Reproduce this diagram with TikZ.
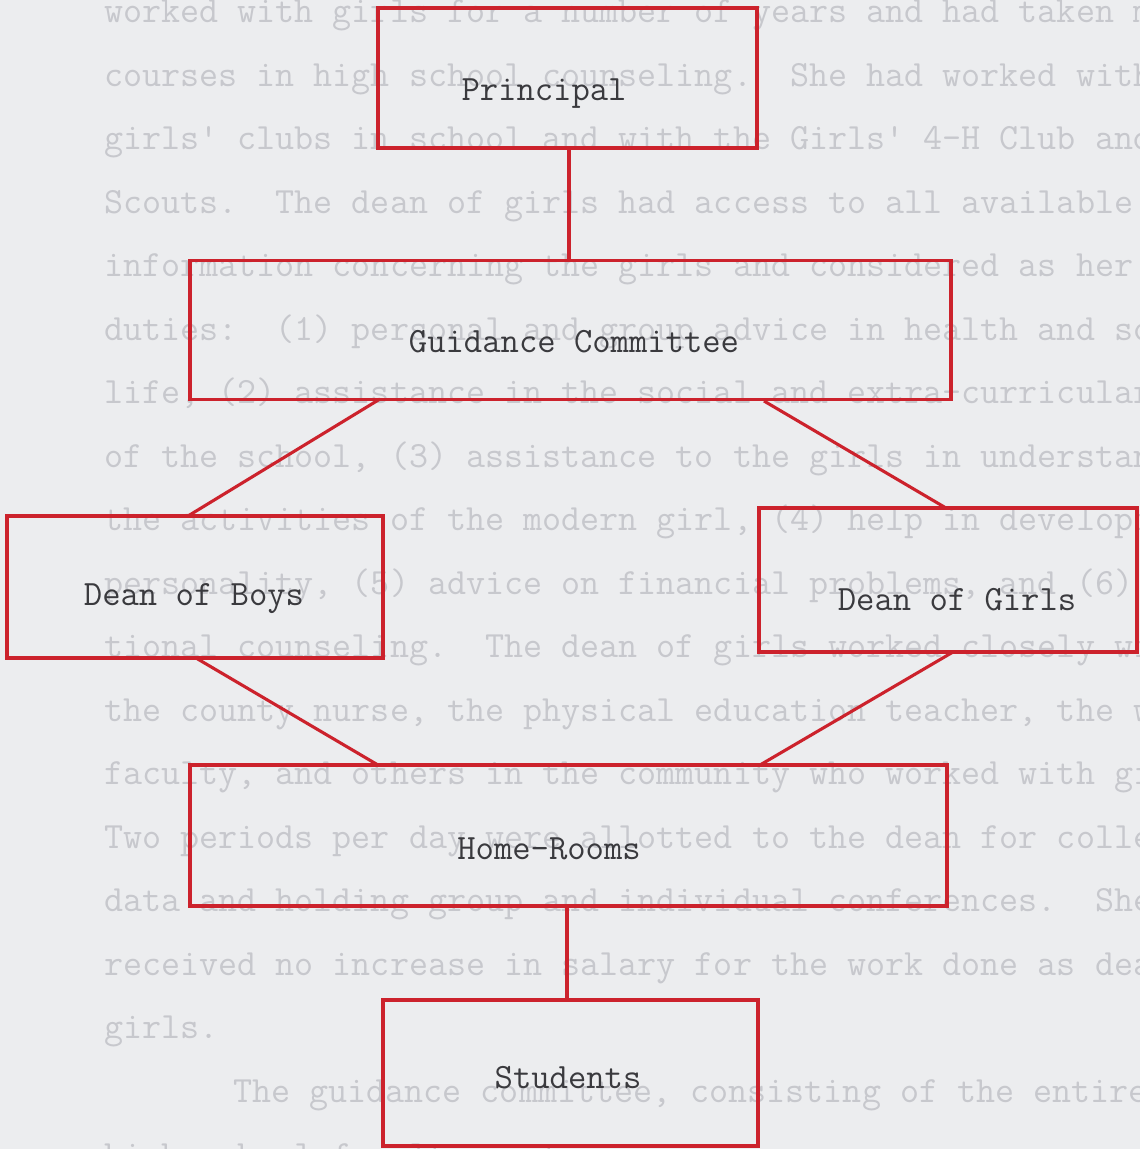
\documentclass[tikz,border=0pt]{standalone}
\usepackage{fontspec}
\definecolor{paper}{RGB}{236,237,239}
\definecolor{ghost}{RGB}{199,200,205}
\definecolor{boxred}{RGB}{204,34,44}
\definecolor{ink}{RGB}{58,58,62}
\newcommand{\tw}{\ttfamily\fontsize{35.6}{40}\selectfont\addfontfeature{FakeBold=1}}
\newcommand{\gw}{\ttfamily\fontsize{37}{40}\selectfont\addfontfeature{FakeBold=1.6}}
\begin{document}
\begin{tikzpicture}[x=1pt,y=-1pt,
  orgbox/.style={draw=boxred,line width=3.4pt,line join=miter},
  conn/.style={draw=boxred,line width=3.1pt},
  lbl/.style={inner sep=0pt,anchor=base,text=ink,font=\tw},
  ghostline/.style={inner sep=0pt,anchor=base west,text=ghost,font=\gw}]
\useasboundingbox (0,0) rectangle (1140,1149);
\clip (0,0) rectangle (1140,1149);
\fill[paper] (0,0) rectangle (1140,1149);
% faint typed text of the page
\node[ghostline] (g1)  at (104,22)   {worked with girls for a number of years and had taken many};
\node[ghostline] (g2)  at (104,86)   {courses in high school counseling.~~She had worked with};
\node[ghostline] (g3)  at (104,149)  {girls' clubs in school and with the Girls' 4-H Club and};
\node[ghostline] (g4)  at (104,213)  {Scouts.~~The dean of girls had access to all available};
\node[ghostline] (g5)  at (104,276)  {information concerning the girls and considered as her};
\node[ghostline] (g6)  at (104,340)  {duties:~~(1) personal and group advice in health and social};
\node[ghostline] (g7)  at (104,403)  {life, (2) assistance in the social and extra-curricular program};
\node[ghostline] (g8)  at (104,467)  {of the school, (3) assistance to the girls in understanding};
\node[ghostline] (g9)  at (104,530)  {the activities of the modern girl, (4) help in developing};
\node[ghostline] (g10) at (104,594)  {personality, (5) advice on financial problems, and (6) voca-};
\node[ghostline] (g11) at (104,657)  {tional counseling.~~The dean of girls worked closely with};
\node[ghostline] (g12) at (104,721)  {the county nurse, the physical education teacher, the whole};
\node[ghostline] (g13) at (104,784)  {faculty, and others in the community who worked with girls.};
\node[ghostline] (g14) at (104,848)  {Two periods per day were allotted to the dean for collecting};
\node[ghostline] (g15) at (104,911)  {data and holding group and individual conferences.~~She};
\node[ghostline] (g16) at (104,975)  {received no increase in salary for the work done as dean of};
\node[ghostline] (g17) at (104,1038) {girls.};
\node[ghostline] (g18) at (233,1102) {The guidance committee, consisting of the entire};
\node[ghostline] (g19) at (104,1166) {high school faculty, met};
% boxes
\node[orgbox,minimum width=379pt,minimum height=140pt] (principal) at (567.5,78) {};
\node[orgbox,minimum width=761pt,minimum height=139pt] (guidance) at (570.5,330) {};
\node[orgbox,minimum width=376pt,minimum height=142pt] (boys) at (195,587) {};
\node[orgbox,minimum width=378pt,minimum height=144pt] (girls) at (948,580) {};
\node[orgbox,minimum width=757pt,minimum height=141pt] (home) at (568.5,835.5) {};
\node[orgbox,minimum width=375pt,minimum height=146pt] (students) at (570.5,1073) {};
% labels
\node[lbl] (tprincipal) at (544,100) {Principal};
\node[lbl] (tguidance) at (574,352) {Guidance Committee};
\node[lbl] (tboys) at (194,605) {Dean of Boys};
\node[lbl] (tgirls) at (957,610) {Dean of Girls};
\node[lbl] (thome) at (549,859) {Home-Rooms};
\node[lbl] (tstudents) at (568,1088) {Students};
% connectors
\coordinate (c1) at (569,148);
\coordinate (c2) at (569,260);
\draw[conn] (c1) -- (c2);
\coordinate (gl) at (380,399);
\coordinate (bt) at (188,516);
\draw[conn] (gl) -- (bt);
\coordinate (gr) at (764,401);
\coordinate (rt) at (946,508);
\draw[conn] (gr) -- (rt);
\coordinate (bb) at (196,658);
\coordinate (hl) at (378,765);
\draw[conn] (bb) -- (hl);
\coordinate (rb) at (953,652);
\coordinate (hr) at (760,765);
\draw[conn] (rb) -- (hr);
\coordinate (h1) at (567,906);
\coordinate (s1) at (567,1000);
\draw[conn] (h1) -- (s1);
\end{tikzpicture}
\end{document}
